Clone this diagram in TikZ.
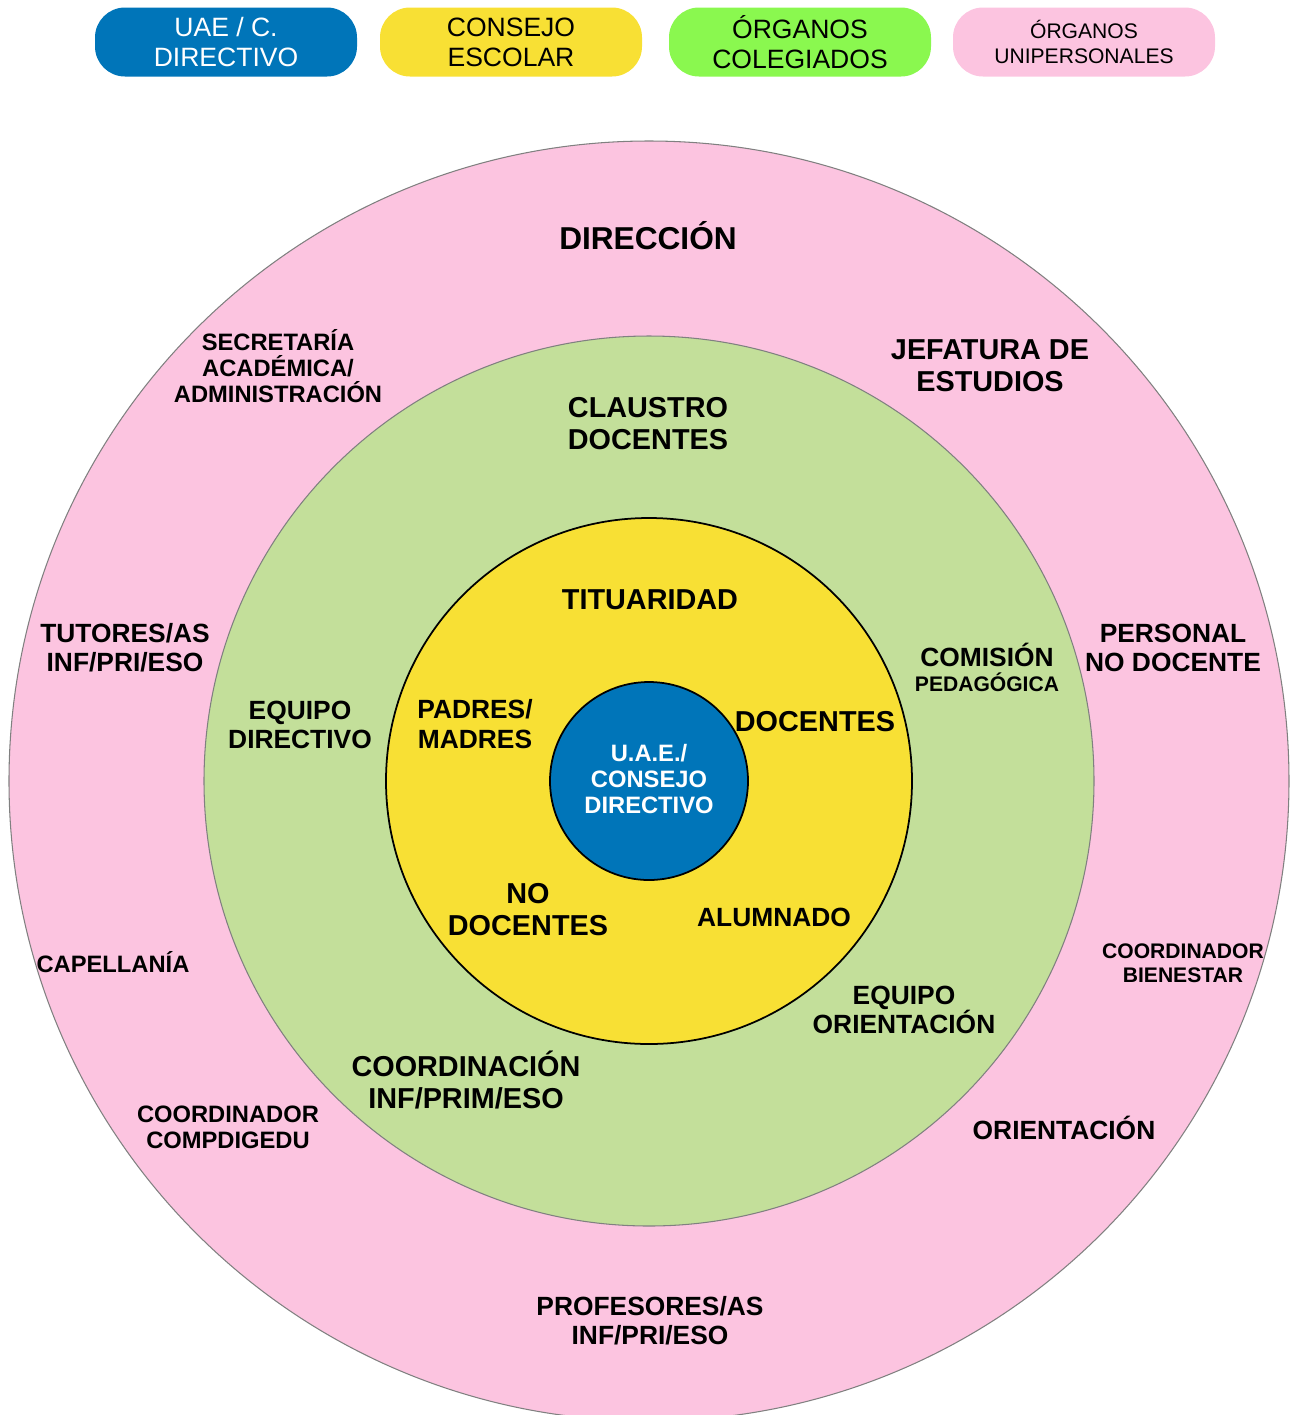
\documentclass[tikz,border=0pt]{standalone}
\usepackage{fontspec}
\setmainfont{Liberation Sans}
\usetikzlibrary{positioning}
\definecolor{uaeblue}{RGB}{0,117,185}
\definecolor{escyellow}{RGB}{248,224,52}
\definecolor{colgreen}{RGB}{195,223,154}
\definecolor{leggreen}{RGB}{138,248,79}
\definecolor{unipink}{RGB}{252,196,224}
\tikzset{pill/.style={rounded corners=3mm,minimum width=26.2mm,minimum height=6.9mm,inner sep=0pt,align=center,font=\fontsize{7.55}{8.5}\selectfont}}
\tikzset{lbl/.style={align=center,inner sep=0pt,yshift=0.2mm}}
\tikzset{lblxl/.style={lbl,font=\fontsize{9}{10.1}\selectfont\bfseries}}
\tikzset{lbll/.style={lbl,font=\fontsize{8.2}{9.1}\selectfont\bfseries}}
\tikzset{lblm/.style={lbl,font=\fontsize{7.5}{8.3}\selectfont\bfseries}}
\tikzset{lbls/.style={lbl,font=\fontsize{6.75}{7.5}\selectfont\bfseries}}
\tikzset{lblxs/.style={lbl,font=\fontsize{6}{6.9}\selectfont\bfseries}}
\begin{document}
\begin{tikzpicture}[x=0.1mm,y=-0.1mm] % 1 unit = 1 px of the reference
            \useasboundingbox (0,0) rectangle (1294,1415);
            \clip (0,0) rectangle (1294,1415);
            \coordinate (c) at (649,781);
            % rings
            \filldraw[draw=gray,fill=unipink,line width=0.3pt] (c) circle[radius=640];
            \filldraw[draw=gray,fill=colgreen,line width=0.3pt] (c) circle[radius=445];
            \filldraw[draw=black,fill=escyellow,line width=0.5pt] (c) circle[radius=263];
            \filldraw[draw=black,fill=uaeblue,line width=0.5pt] (c) circle[radius=99];
            % legend
            \node[pill,fill=uaeblue,text=white] (leguae) at (226,42) {UAE / C.\\DIRECTIVO};
            \node[pill,fill=escyellow] (legcons) at (511,42) {CONSEJO\\ESCOLAR};
            \node[pill,fill=leggreen] (legcol) at (800,42) {ÓRGANOS\\COLEGIADOS};
            \node[pill,fill=unipink,font=\fontsize{6}{7.1}\selectfont] (leguni) at (1084,42) {ÓRGANOS\\UNIPERSONALES};
            % centre
            \node[lbls,text=white] (uae) at (c) {U.A.E./\\CONSEJO\\DIRECTIVO};
            % consejo escolar
            \node[lbll] (titul) at (650,602) {TITUARIDAD};
            \node[lblm] (padres) at (475,726) {PADRES/\\MADRES};
            \node[lbll] (docen) at (815,724) {DOCENTES};
            \node[lbll] (nodoc) at (528,912) {NO\\DOCENTES};
            \node[lblm] (alum) at (774,919) {ALUMNADO};
            % organos colegiados
            \node[lbll] (claus) at (648,426) {CLAUSTRO\\DOCENTES};
            \node[lblm] (comis) at (987,657) {COMISIÓN};
            \node[lblxs] (pedag) at (987,684) {PEDAGÓGICA};
            \node[lblm] (eqdir) at (300,727) {EQUIPO\\DIRECTIVO};
            \node[lblm] (eqori) at (904,1012) {EQUIPO\\ORIENTACIÓN};
            \node[lbll] (coord) at (466,1082) {COORDINACIÓN\\INF/PRIM/ESO};
            % organos unipersonales
            \node[lblxl] (direc) at (648,238) {DIRECCIÓN};
            \node[lbls] (secre) at (278,368) {SECRETARÍA\\ACADÉMICA/\\ADMINISTRACIÓN};
            \node[lbll] (jefat) at (990,368) {JEFATURA DE\\ESTUDIOS};
            \node[lblm] (tutor) at (125,650) {TUTORES/AS\\INF/PRI/ESO};
            \node[lblm] (perso) at (1173,650) {PERSONAL\\NO DOCENTE};
            \node[lbls] (capel) at (113,964) {CAPELLANÍA};
            \node[lblxs] (bienes) at (1183,965) {COORDINADOR\\BIENESTAR};
            \node[lbls] (compd) at (228,1129) {COORDINADOR\\COMPDIGEDU};
            \node[lblm] (orien) at (1064,1130) {ORIENTACIÓN};
            \node[lblm] (profe) at (650,1323) {PROFESORES/AS\\INF/PRI/ESO};
        \end{tikzpicture}
\end{document}
